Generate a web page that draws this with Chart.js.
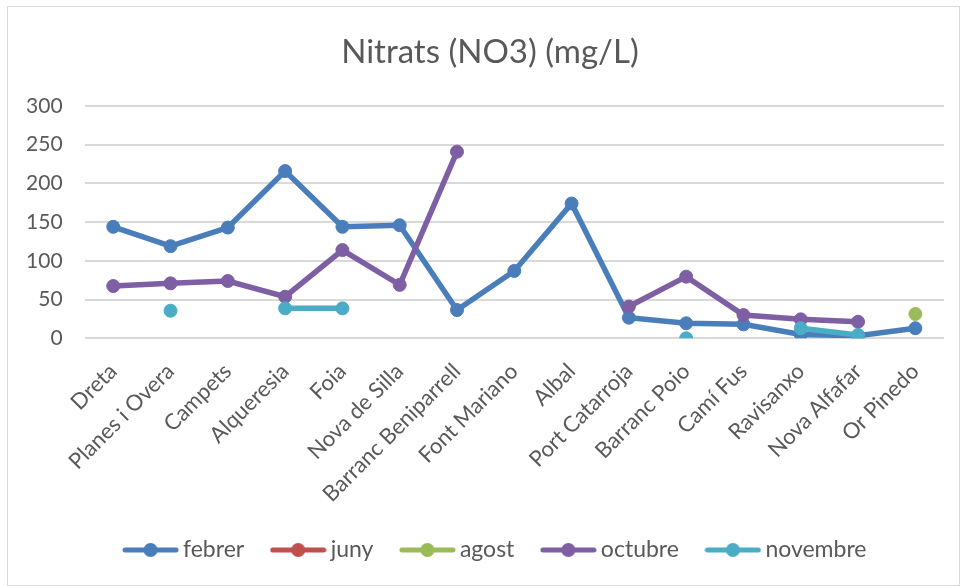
<!DOCTYPE html>
<html>
<head>
<meta charset="utf-8">
<script src="https://cdn.jsdelivr.net/npm/chart.js@4/dist/chart.umd.min.js"></script>
<style>
  html, body { margin: 0; padding: 0; background: #fff; }
  #wrap { position: relative; width: 961px; height: 586px; }
  #frame { position: absolute; left: 7px; top: 6px; width: 951px; height: 578px; border: 1px solid #d9d9d9; pointer-events: none; }
  canvas { position: absolute; left: 0; top: 0; }
</style>
</head>
<body>
<div id="wrap">
  <canvas id="chart" width="961" height="586"></canvas>
  <div id="frame"></div>
</div>
<script>
'use strict';

var llocs = ['Dreta', 'Planes i Overa', 'Campets', 'Alqueresia', 'Foia', 'Nova de Silla',
  'Barranc Beniparrell', 'Font Mariano', 'Albal', 'Port Catarroja', 'Barranc Poio',
  'Camí Fus', 'Ravisanxo', 'Nova Alfafar', 'Or Pinedo'];

var febrer   = [144, 119, 143, 216, 144, 146, 36.5, 87, 174, 26.6, 19.4, 18, 5, 3.4, 13];
var juny     = [null, null, null, null, null, null, null, null, null, null, null, null, null, null, null];
var agost    = [null, null, null, null, null, null, null, null, null, null, null, null, null, null, 31.4];
var octubre  = [67.5, 71, 74, 53.7, 114, 69, 241, null, null, 41, 79.6, 30, 24.5, 21.4, null];
var novembre = [null, 35.6, null, 38.7, 38.7, null, null, null, null, null, 0, null, 13, 4.3, null];

var yTicks = [0, 50, 100, 150, 200, 250, 300];

var grey = '#595959';
var font = 'Lato, "Open Sans", sans-serif';
var colors = ['#4a7ebb', '#c0504d', '#9bbb59', '#7f5fa3', '#4bacc6'];

// legend marker: line with a dot in the middle, like Excel
function marker(color) {
  var c = document.createElement('canvas');
  c.width = 57;
  c.height = 16;
  var g = c.getContext('2d');
  g.strokeStyle = color;
  g.lineWidth = 5;
  g.lineCap = 'round';
  g.beginPath();
  g.moveTo(3, 8);
  g.lineTo(54, 8);
  g.stroke();
  g.fillStyle = color;
  g.beginPath();
  g.arc(28.5, 8, 7, 0, Math.PI * 2);
  g.fill();
  return c;
}

function serie(label, data, color, order) {
  return {
    label: label,
    data: data,
    borderColor: color,
    backgroundColor: color,
    pointBackgroundColor: color,
    pointBorderColor: color,
    borderWidth: 5.5,
    pointRadius: 6.5,
    pointBorderWidth: 1,
    pointHoverRadius: 6.5,
    tension: 0,
    spanGaps: false,
    order: order
  };
}

// move title and legend a bit to the right, where Excel put them
var shift = {
  id: 'shift',
  afterLayout: function(c) {
    c.titleBlock.left += 18;
    c.titleBlock.right += 18;
    c.legend.left += 26;
    c.legend.right += 26;
  }
};

var ctx = document.getElementById('chart').getContext('2d');
var chart = new Chart(ctx, {
  type: 'line',
  data: {
    labels: llocs,
    datasets: [
      serie('febrer', febrer, colors[0], 5),
      serie('juny', juny, colors[1], 4),
      serie('agost', agost, colors[2], 3),
      serie('octubre', octubre, colors[3], 2),
      serie('novembre', novembre, colors[4], 1)
    ]
  },
  plugins: [shift],
  options: {
    responsive: false,
    animation: false,
    devicePixelRatio: 1,
    layout: { padding: { left: 0, right: 17, top: 0, bottom: 14.5 } },
    plugins: {
      tooltip: { enabled: false },
      title: {
        display: true,
        text: 'Nitrats (NO3) (mg/L)',
        color: grey,
        font: { family: font, size: 33, weight: 'normal', lineHeight: 1.2 },
        padding: { top: 33, bottom: 33.4 }
      },
      legend: {
        position: 'bottom',
        labels: {
          color: grey,
          font: { family: font, size: 23 },
          usePointStyle: true,
          pointStyleWidth: 42,
          padding: 33,
          sort: function(a, b) { return a.datasetIndex - b.datasetIndex; },
          generateLabels: function(c) {
            var items = Chart.defaults.plugins.legend.labels.generateLabels(c);
            return items.map(function(it) {
              it.pointStyle = marker(colors[it.datasetIndex]);
              return it;
            });
          }
        }
      }
    },
    scales: {
      x: {
        offset: true,
        grid: { display: false, drawTicks: false },
        border: { display: false },
        ticks: {
          color: grey,
          font: { family: font, size: 22 },
          autoSkip: false,
          minRotation: 45,
          maxRotation: 45,
          padding: 20
        },
        afterFit: function(s) {
          // keep the plot bottom at the same place as the reference
          s.height = s.chart.height - 14.5 - s.chart.legend.height - 338.3;
        }
      },
      y: {
        min: 0,
        max: 300,
        grid: { color: '#d9d9d9', lineWidth: 2, drawTicks: false },
        border: { display: false },
        afterBuildTicks: function(s) {
          s.ticks = yTicks.map(function(v) { return { value: v }; });
        },
        ticks: {
          color: grey,
          font: { family: font, size: 21 },
          padding: 22
        },
        afterFit: function(s) { s.width = 84.6; }
      }
    }
  }
});
</script>
</body>
</html>
